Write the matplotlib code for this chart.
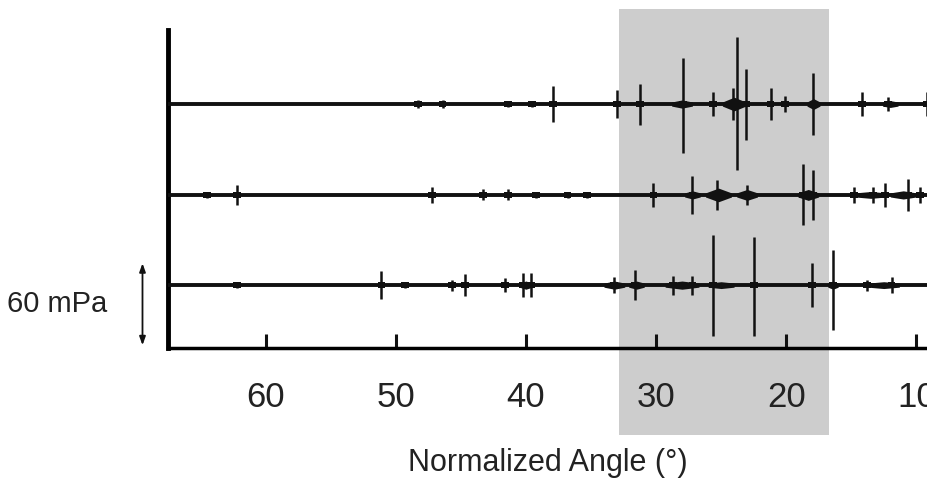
import matplotlib
matplotlib.use("Agg")
import matplotlib.pyplot as plt
from matplotlib.patches import Rectangle
import matplotlib.transforms as mtransforms

# ---------------- data ----------------
tick_values = [60, 50, 40, 30, 20, 10]
tick_labels = ["60", "50", "40", "30", "20", "10"]
x_limits = (67.5, 9.1)
shade_range = (32.85, 16.7)          # highlighted angle window (deg)
scale_bar_mPa = 60
trace_offsets = [178.5, 112.0, 46.0]  # baseline level of each trace (mPa)

# spikes: (angle deg, up mPa, down mPa)
top_spikes = [
    (48.3, 3, 3), (46.4, 3, 3), (41.4, 2, 2), (39.5, 2, 2), (37.9, 13, 13),
    (33.0, 10, 10), (31.2, 15, 15), (27.9, 34, 36), (25.6, 9, 9),
    (24.1, 12, 12), (23.8, 49, 48), (23.1, 26, 26), (21.2, 12, 12),
    (20.1, 6, 6), (17.9, 23, 23), (14.2, 9, 9), (12.2, 5, 5), (9.2, 9, 9),
]
mid_spikes = [
    (64.5, 2, 2), (62.2, 7, 7), (47.2, 6, 6), (43.3, 4, 4), (41.4, 4, 4),
    (39.2, 2, 2), (36.8, 2, 2), (35.3, 2, 2), (30.2, 9, 9), (27.2, 14, 14),
    (25.3, 11, 11), (23.0, 7, 7), (18.7, 23, 22), (17.9, 18, 18),
    (14.8, 6, 6), (13.3, 6, 6), (12.4, 9, 9), (10.6, 12, 12), (9.7, 6, 6),
]
bot_spikes = [
    (62.2, 2, 2), (51.1, 10, 10), (49.3, 2, 2), (45.7, 4, 4), (44.7, 8, 8),
    (41.6, 5, 5), (40.2, 9, 9), (39.6, 9, 9), (33.2, 6, 6), (31.6, 11, 11),
    (28.7, 7, 7), (27.2, 7, 7), (25.6, 37, 37), (22.5, 35, 37),
    (18.0, 16, 16), (16.4, 26, 33), (13.8, 4, 4), (11.9, 6, 6),
]
# blobs: (angle center, half width deg, half thickness mPa)
top_blobs = [(24.0, 0.9, 5), (28.0, 0.8, 3), (17.9, 0.5, 4), (12.0, 0.6, 2.5)]
mid_blobs = [(25.2, 1.0, 5), (23.0, 0.8, 4), (27.2, 0.6, 3), (13.5, 1.2, 2.5),
             (11.0, 1.0, 3), (18.3, 0.8, 4)]
bot_blobs = [(33.2, 0.8, 3), (28.0, 1.3, 3), (31.5, 0.6, 3), (25.0, 1.0, 2.5),
             (16.4, 0.4, 3), (12.5, 1.2, 2.5), (40.0, 0.5, 3)]

all_spikes = [top_spikes, mid_spikes, bot_spikes]
all_blobs = [top_blobs, mid_blobs, bot_blobs]

# ---------------- figure ----------------
FONT = ["Liberation Sans Narrow", "Liberation Sans", "DejaVu Sans"]
plt.rcParams["font.family"] = FONT

fig = plt.figure(figsize=(9.28, 4.96), dpi=100)
ax = fig.add_axes([168 / 928, 1 - 348 / 496, 1 - 168 / 928, (348 - 30) / 496])
ax.set_xlim(*x_limits)
ax.set_ylim(0, 318 * 60 / 82)

# shaded window (extends beyond the axes vertically)
trans = mtransforms.blended_transform_factory(ax.transData, fig.transFigure)
ax.add_patch(Rectangle((shade_range[0], 1 - 435 / 496),
                       shade_range[1] - shade_range[0], (435 - 9) / 496,
                       transform=trans, facecolor="#cdcdcd", edgecolor="none",
                       zorder=0, clip_on=False))

for off, spikes, blobs in zip(trace_offsets, all_spikes, all_blobs):
    ax.hlines(off, x_limits[0], x_limits[1], color="#111111", lw=2.8, zorder=3)
    for a, up, dn in spikes:
        ax.vlines(a, off - dn, off + up, color="#111111", lw=1.8, zorder=4)
        ax.fill_between([a + 0.3, a - 0.3], off - 2.2, off + 2.2,
                        color="#111111", lw=0, zorder=4)
    for a, w, h in blobs:
        ax.fill_between([a + w, a, a - w], [off - 1.5, off - h, off - 1.5],
                        [off + 1.5, off + h, off + 1.5],
                        color="#111111", lw=0, zorder=4)

# spines and ticks
for s in ["top", "right"]:
    ax.spines[s].set_visible(False)
ax.spines["left"].set_linewidth(3.5)
ax.spines["bottom"].set_linewidth(2.5)
ax.set_yticks([])
ax.set_xticks(tick_values)
ax.set_xticklabels(tick_labels)
ax.tick_params(axis="x", direction="in", length=10, width=2.2, pad=24,
               labelsize=25, color="#111111", labelcolor="#222222")
ax.set_xlabel("Normalized Angle (°)", fontsize=22, color="#222222", labelpad=24)

# scale bar
ax.annotate("", xy=(69.46, 2), xytext=(69.46, 2 + scale_bar_mPa),
            arrowprops=dict(arrowstyle="<|-|>,head_length=0.5,head_width=0.18",
                            color="#111111", lw=1.3, shrinkA=0, shrinkB=0),
            annotation_clip=False)
ax.text(72.15, 32, "60 mPa", ha="right", va="center", fontsize=21,
        color="#222222", clip_on=False)

fig.savefig("out.png", dpi=100)
